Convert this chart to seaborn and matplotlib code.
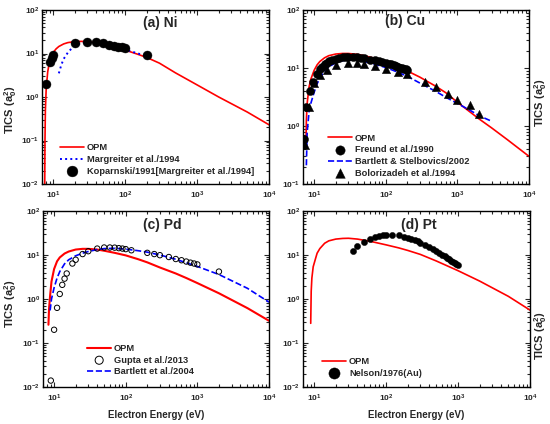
import numpy as np
import pandas as pd
import matplotlib
matplotlib.use("Agg")
import matplotlib.pyplot as plt
import seaborn as sns

### (a) Ni
ni_opm_e = [7.64, 7.7, 7.8, 8.0, 8.4, 9, 10, 11, 12, 14, 16, 20, 25, 30, 40, 50, 70, 100, 150, 200, 300, 500, 1000, 2000, 5000, 10000]
ni_opm_s = [0.01, 0.1, 0.5, 1.5, 3.8, 7.0, 10.5, 12.8, 14.5, 16.6, 17.8, 18.8, 19.0, 18.7, 17.6, 16.4, 14.2, 12.0, 9.6, 8.1, 6.0, 3.6, 1.9, 1.0, 0.45, 0.23]
ni_marg_e = [12, 13, 14, 16, 18, 20, 25, 30, 40, 50, 70, 100, 150, 200]
ni_marg_s = [3.5, 5.5, 7.5, 10.5, 13.0, 15.0, 17.5, 18.0, 17.5, 16.5, 14.5, 12.5, 10.0, 9.0]
ni_kop_e = [8, 9, 9.5, 10, 20, 30, 40, 50, 60, 70, 80, 90, 100, 200]
ni_kop_s = [2.0, 6.5, 7.8, 9.0, 17.5, 18.5, 18.3, 17.6, 15.8, 15.0, 14.4, 13.8, 13.2, 9.4]

### (b) Cu
cu_opm_e = [7.73, 7.8, 8, 8.5, 9, 10, 11, 12, 14, 16, 20, 25, 30, 40, 50, 70, 100, 150, 200, 300, 500, 700, 1000, 2000, 3000, 5000, 10000]
cu_opm_s = [0.66, 1.27, 2.45, 4.7, 6.4, 9.1, 11.3, 12.9, 15.0, 16.3, 17.4, 17.8, 17.8, 17.2, 16.3, 14.7, 12.6, 10.4, 8.9, 6.95, 4.84, 3.7, 2.57, 1.33, 0.93, 0.58, 0.30]
cu_freund_e = [7.3, 7.8, 8.7, 9.7, 11, 12, 13, 14, 15, 16, 18, 20, 22, 25, 28, 30, 35, 40, 45, 50, 60, 70, 80, 90, 100,
               110, 120, 130, 140, 150, 160, 170, 180, 190, 200]
cu_freund_s = [0.6, 2.1, 3.95, 5.85, 8.0, 9.45, 10.5, 11.5, 12.3, 13.0, 13.9, 14.5, 14.9, 15.2, 15.4, 15.5, 15.5, 15.3, 15.0, 14.7, 14.0, 13.5, 13.0, 12.5, 12.1,
               11.8, 11.5, 11.2, 10.8, 10.5, 10.2, 10.0, 9.7, 9.45, 9.2]
cu_bart_e = [7.8, 8, 8.5, 9, 10, 11, 12, 14, 16, 20, 25, 30, 40, 50, 70, 100, 150, 200, 300, 500, 700, 1000, 1500, 2000, 3000]
cu_bart_s = [0.21, 0.78, 1.75, 2.45, 3.8, 5.3, 6.7, 8.9, 10.4, 12.3, 13.4, 13.8, 13.6, 13.0, 11.6, 10.2, 8.4, 7.2, 5.5, 3.95, 3.1, 2.45, 1.87, 1.51, 1.21]
cu_bolo_e = [7.5, 8.5, 10, 12, 15, 20, 30, 40, 50, 70, 100, 150, 200, 350, 500, 750, 1000, 1500, 2000]
cu_bolo_s = [0.47, 2.1, 5.6, 7.5, 9.3, 11.3, 12.3, 12.1, 11.5, 10.7, 9.7, 8.5, 7.8, 5.85, 4.7, 3.6, 2.8, 2.28, 1.63]

### (c) Pd
pd_opm_e = [8.34, 8.5, 8.8, 9.2, 10, 11, 12, 14, 16, 20, 25, 30, 40, 50, 70, 100, 150, 200, 300, 500, 700, 1000, 2000, 5000, 10000]
pd_opm_s = [0.26, 0.6, 1.2, 2.5, 4.8, 7.2, 8.8, 10.8, 12.0, 13.3, 13.8, 13.8, 13.3, 12.5, 11.2, 9.8, 8.0, 6.8, 5.2, 3.8, 3.0, 2.3, 1.35, 0.62, 0.32]
pd_gupta_e = [9, 10, 11, 12, 13, 14, 15, 18, 20, 25, 30, 40, 50, 60, 70, 80, 90, 100, 120, 200, 250, 300, 400, 500, 600, 700, 800, 900, 1000, 2000]
pd_gupta_s = [0.014, 0.2, 0.63, 1.3, 2.1, 2.9, 3.8, 6.4, 7.8, 10.5, 12.2, 14.0, 14.8, 14.8, 14.7, 14.3, 14.0, 13.6, 12.8, 11.2, 10.5, 9.9, 9.0, 8.1, 7.6, 7.1, 6.7, 6.4, 6.1, 4.2]
pd_bart_e = [8.8, 9.2, 10, 11, 12, 14, 16, 20, 25, 30, 40, 50, 70, 100, 150, 200, 300, 500, 1000, 2000, 5000, 10000]
pd_bart_s = [0.55, 1.0, 1.8, 3.0, 4.2, 6.3, 7.8, 9.6, 11.0, 12.0, 13.3, 14.0, 14.2, 13.6, 12.5, 11.6, 10.0, 8.0, 5.5, 3.6, 1.75, 0.85]

### (d) Pt
pt_opm_e = [8.96, 9.1, 9.3, 9.7, 10.5, 11, 12, 14, 16, 20, 25, 30, 40, 60, 100, 150, 200, 300, 500, 1000, 2000, 5000, 10000]
pt_opm_s = [0.28, 1.5, 3.0, 5.4, 8.5, 11.0, 14.0, 18.5, 21.0, 23.0, 23.8, 24.0, 23.0, 20.5, 17.0, 14.5, 12.7, 10.3, 7.3, 4.4, 2.55, 1.15, 0.56]
pt_nelson_e = [35, 40, 50, 60, 70, 80, 90, 100, 120, 150, 175, 200, 225, 250, 275, 300, 350, 400, 450, 500,
               550, 600, 650, 700, 750, 800, 850, 900, 950, 1000]
pt_nelson_s = [12.5, 16.0, 19.5, 23.0, 25.5, 27.0, 28.0, 28.5, 29.0, 28.0, 26.0, 24.5, 23.0, 21.5, 20.3, 19.2, 17.3, 15.3, 13.7, 12.3,
               11.2, 10.2, 9.3, 8.6, 8.0, 7.4, 7.0, 6.6, 6.3, 6.0]

RED = '#FF0000'
BLUE = '#0000FF'

sns.set_style('ticks')
plt.rcParams['font.family'] = ['Liberation Sans', 'DejaVu Sans']
plt.rcParams['font.weight'] = 'bold'
plt.rcParams['axes.labelweight'] = 'bold'
plt.rcParams['mathtext.default'] = 'regular'
plt.rcParams['axes.linewidth'] = 1.0
plt.rcParams['axes.edgecolor'] = 'black'

fig = plt.figure(figsize=(5.5, 4.24), dpi=100)
W, H = 550.0, 424.0


def make_ax(x0, x1, y0, y1):
    return fig.add_axes([x0 / W, (H - y1) / H, (x1 - x0) / W, (y1 - y0) / H])


def line(ax, e, s, label, color, ls='-', lw=1.2):
    df = pd.DataFrame({'E': e, 'TICS': s})
    sns.lineplot(data=df, x='E', y='TICS', ax=ax, color=color, linestyle=ls, lw=lw, label=label)


def points(ax, e, s, label, marker='o', size=28, filled=True):
    df = pd.DataFrame({'E': e, 'TICS': s})
    if filled:
        sns.scatterplot(data=df, x='E', y='TICS', ax=ax, marker=marker, s=size, color='black',
                        edgecolor='black', linewidth=0.3, label=label, zorder=3)
    else:
        sns.scatterplot(data=df, x='E', y='TICS', ax=ax, marker=marker, s=size, facecolors='none',
                        edgecolors='black', linewidth=0.7, label=label, zorder=3)


def style(ax, ylim, title, tx, ty):
    ax.set_xscale('log')
    ax.set_yscale('log')
    ax.set_xlim(7, 1e4)
    ax.set_ylim(*ylim)
    ax.tick_params(which='both', direction='in', top=True, right=True, labelsize=6, width=0.8, pad=2)
    ax.tick_params(axis='x', which='both', pad=4)
    ax.tick_params(which='major', length=3.5)
    ax.tick_params(which='minor', length=2)
    ax.text(tx, ty, title, transform=ax.transAxes, ha='center', va='center', fontsize=10, fontweight='bold')
    ax.set_xlabel('')
    ax.set_ylabel('')


ax_a = make_ax(42, 269, 10, 184)
ax_b = make_ax(303, 529, 10, 184)
ax_c = make_ax(43, 269, 211, 387)
ax_d = make_ax(303, 530, 211, 387)

# (a)
ax_a.set_xscale('log'); ax_a.set_yscale('log')
line(ax_a, ni_opm_e, ni_opm_s, 'OPM', RED)
line(ax_a, ni_marg_e, ni_marg_s, 'Margreiter et al./1994', BLUE, ls=':', lw=1.4)
points(ax_a, ni_kop_e, ni_kop_s, 'Koparnski/1991[Margreiter et al./1994]', size=42)
style(ax_a, (1e-2, 1e2), '(a) Ni', 0.52, 0.925)

# (b)
ax_b.set_xscale('log'); ax_b.set_yscale('log')
line(ax_b, cu_opm_e, cu_opm_s, 'OPM', RED)
points(ax_b, cu_freund_e, cu_freund_s, 'Freund et al./1990', size=34)
line(ax_b, cu_bart_e, cu_bart_s, 'Bartlett & Stelbovics/2002', BLUE, ls='--')
points(ax_b, cu_bolo_e, cu_bolo_s, 'Bolorizadeh et al./1994', marker='^', size=36)
style(ax_b, (1e-1, 1e2), '(b) Cu', 0.45, 0.935)

# (c)
ax_c.set_xscale('log'); ax_c.set_yscale('log')
line(ax_c, pd_opm_e, pd_opm_s, 'OPM', RED, lw=1.5)
points(ax_c, pd_gupta_e, pd_gupta_s, 'Gupta et al./2013', size=15, filled=False)
line(ax_c, pd_bart_e, pd_bart_s, 'Bartlett et al./2004', BLUE, ls='--')
style(ax_c, (1e-2, 1e2), '(c) Pd', 0.53, 0.92)

# (d)
ax_d.set_xscale('log'); ax_d.set_yscale('log')
line(ax_d, pt_opm_e, pt_opm_s, 'OPM', RED)
points(ax_d, pt_nelson_e, pt_nelson_s, 'Nelson/1976(Au)', size=20)
style(ax_d, (1e-2, 1e2), '(d) Pt', 0.51, 0.92)

# legends
leg_kw = dict(frameon=False, fontsize=6.7, borderpad=0, borderaxespad=0, handletextpad=0.3,
              handlelength=2.6, labelspacing=0.3, loc='upper left')
ax_a.legend(bbox_to_anchor=(0.079, 0.235), markerscale=1.2, **leg_kw)
ax_b.legend(bbox_to_anchor=(0.11, 0.29), markerscale=1.15, **leg_kw)
ax_c.legend(bbox_to_anchor=(0.195, 0.245), markerscale=1.5, **leg_kw)
ax_d.legend(bbox_to_anchor=(0.084, 0.17), markerscale=1.8, **leg_kw)

# axis labels
ylab = 'TICS (a$_0^2$)'
for ax, pos in [(ax_a, (-0.1, 0.425)), (ax_c, (-0.104, 0.474))]:
    ax.set_ylabel(ylab, fontsize=8, fontweight='bold')
    ax.yaxis.set_label_coords(*pos)
for ax, pos in [(ax_b, (1.015, 0.465)), (ax_d, (1.01, 0.29))]:
    ax.yaxis.set_label_position('right')
    ax.set_ylabel(ylab, fontsize=8, fontweight='bold')
    ax.yaxis.set_label_coords(*pos)
for ax in (ax_c, ax_d):
    ax.set_xlabel('Electron Energy (eV)', fontsize=7, fontweight='bold')
    ax.xaxis.set_label_coords(0.5, -0.13)

fig.savefig('out.png', dpi=100)
